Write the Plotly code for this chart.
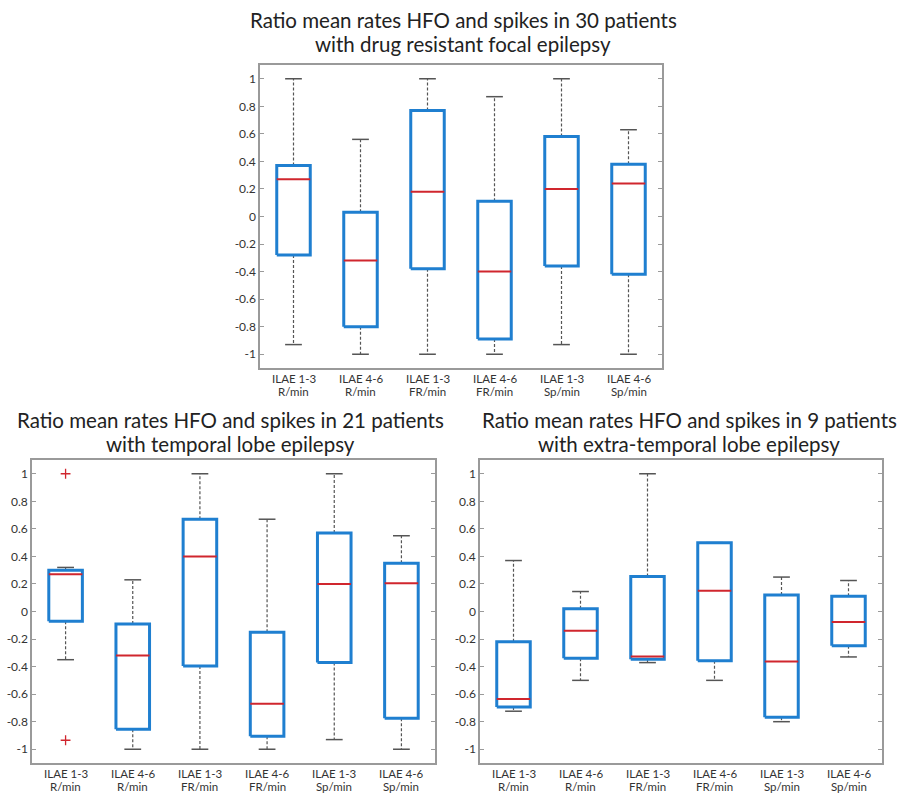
import plotly.graph_objects as go

cat_line1 = ["ILAE 1-3", "ILAE 4-6", "ILAE 1-3", "ILAE 4-6", "ILAE 1-3", "ILAE 4-6"]
cat_line2 = ["R/min", "R/min", "FR/min", "FR/min", "Sp/min", "Sp/min"]
y_ticks = [1, 0.8, 0.6, 0.4, 0.2, 0, -0.2, -0.4, -0.6, -0.8, -1]
y_tick_text = ["1", "0.8", "0.6", "0.4", "0.2", "0", "-0.2", "-0.4", "-0.6", "-0.8", "-1"]

titles = [
    ["Ratio mean rates HFO and spikes in 30 patients", "with drug resistant focal epilepsy"],
    ["Ratio mean rates HFO and spikes in 21 patients", "with temporal lobe epilepsy"],
    ["Ratio mean rates HFO and spikes in 9 patients", "with extra-temporal lobe epilepsy"],
]

# Panel 1: 30 patients
all_upper = [1.00, 0.56, 1.00, 0.87, 1.00, 0.63]
all_q3 = [0.37, 0.03, 0.77, 0.11, 0.58, 0.38]
all_median = [0.27, -0.32, 0.18, -0.40, 0.20, 0.24]
all_q1 = [-0.28, -0.80, -0.38, -0.89, -0.36, -0.42]
all_lower = [-0.93, -1.00, -1.00, -1.00, -0.93, -1.00]
all_outliers = [[], [], [], [], [], []]

# Panel 2: 21 patients temporal lobe
tle_upper = [0.32, 0.23, 1.00, 0.67, 1.00, 0.55]
tle_q3 = [0.30, -0.09, 0.67, -0.15, 0.57, 0.35]
tle_median = [0.27, -0.32, 0.40, -0.67, 0.20, 0.205]
tle_q1 = [-0.07, -0.855, -0.395, -0.905, -0.37, -0.775]
tle_lower = [-0.35, -1.00, -1.00, -1.00, -0.93, -1.00]
tle_outliers = [[1.0, -0.935], [], [], [], [], []]

# Panel 3: 9 patients extra-temporal
etle_upper = [0.37, 0.145, 1.00, 0.50, 0.25, 0.225]
etle_q3 = [-0.22, 0.02, 0.255, 0.50, 0.12, 0.11]
etle_median = [-0.635, -0.14, -0.327, 0.15, -0.363, -0.076]
etle_q1 = [-0.693, -0.34, -0.347, -0.357, -0.767, -0.248]
etle_lower = [-0.724, -0.50, -0.371, -0.50, -0.80, -0.33]
etle_outliers = [[], [], [], [], [], []]

panels = [
    (all_upper, all_q3, all_median, all_q1, all_lower, all_outliers),
    (tle_upper, tle_q3, tle_median, tle_q1, tle_lower, tle_outliers),
    (etle_upper, etle_q3, etle_median, etle_q1, etle_lower, etle_outliers),
]

W, H = 911, 794


def px_x(x):
    return x / W


def px_y(y):
    return 1 - y / H


# pixel frames (left, top, right, bottom)
frames = [(260, 65, 662, 368), (32, 460, 435, 763), (480, 460, 882, 763)]
# title centre x and cap-top y of first line
title_pos = [(463, 12), (230, 412), (689, 412)]
TITLE_LINE = 24

FONT = "Lato, 'Open Sans', sans-serif"
BLUE = "#1f7fd0"
RED = "#d0262e"
GREY = "#555555"
BOX_HALF = 0.25
CAP_HALF = 0.125

fig = go.Figure()
layout = dict(width=W, height=H, margin=dict(l=0, r=0, t=0, b=0),
              paper_bgcolor="white", plot_bgcolor="white", showlegend=False,
              font=dict(family=FONT, color="#333333"))
annotations = []

for p, (up, q3, med, q1, lo, outl) in enumerate(panels):
    sfx = "" if p == 0 else str(p + 1)
    xa, ya = "x" + sfx, "y" + sfx
    l, t, r, b = frames[p]
    layout["xaxis" + sfx] = dict(
        domain=[px_x(l), px_x(r)], anchor=ya, range=[0.5, 6.5],
        tickvals=list(range(1, 7)), showticklabels=False,
        showline=True, mirror=True, linecolor="#9a9a9a", linewidth=1.5,
        ticks="", showgrid=False, zeroline=False)
    layout["yaxis" + sfx] = dict(
        domain=[px_y(b), px_y(t)], anchor=xa, range=[-1.1, 1.1],
        tickvals=y_ticks, ticktext=y_tick_text,
        showline=True, mirror="ticks", linecolor="#9a9a9a", linewidth=1.5,
        ticks="inside", ticklen=4, tickcolor="#9a9a9a",
        showgrid=False, zeroline=False,
        tickfont=dict(size=12, family=FONT, color="#333333"))

    xs = list(range(1, 7))
    wx, wy, cx, cy, bx, by, mx, my, ox, oy = ([] for _ in range(10))
    for i, x in enumerate(xs):
        wx += [x, x, None, x, x, None]
        wy += [q3[i], up[i], None, q1[i], lo[i], None]
        cx += [x - CAP_HALF, x + CAP_HALF, None, x - CAP_HALF, x + CAP_HALF, None]
        cy += [up[i], up[i], None, lo[i], lo[i], None]
        bx += [x - BOX_HALF, x + BOX_HALF, x + BOX_HALF, x - BOX_HALF, x - BOX_HALF, None]
        by += [q1[i], q1[i], q3[i], q3[i], q1[i], None]
        mx += [x - BOX_HALF, x + BOX_HALF, None]
        my += [med[i], med[i], None]
        for v in outl[i]:
            ox.append(x)
            oy.append(v)
        # two-line category labels below the axis (tight line spacing)
        for k, txt in enumerate((cat_line1[i], cat_line2[i])):
            annotations.append(dict(text=txt, x=x, xref=xa,
                                    y=px_y(b + 10 + 13.5 * k), yref="paper",
                                    xanchor="center", yanchor="middle",
                                    showarrow=False, borderpad=0,
                                    font=dict(size=11.5, family=FONT, color="#333333")))

    fig.add_trace(go.Scatter(x=wx, y=wy, mode="lines", xaxis=xa, yaxis=ya,
                             line=dict(color=GREY, width=1.2, dash="3px,2px"),
                             hoverinfo="skip"))
    fig.add_trace(go.Scatter(x=cx, y=cy, mode="lines", xaxis=xa, yaxis=ya,
                             line=dict(color=GREY, width=1.5), hoverinfo="skip"))
    fig.add_trace(go.Scatter(x=bx, y=by, mode="lines", xaxis=xa, yaxis=ya,
                             fill="toself", fillcolor="white",
                             line=dict(color=BLUE, width=3), hoverinfo="skip"))
    fig.add_trace(go.Scatter(x=mx, y=my, mode="lines", xaxis=xa, yaxis=ya,
                             line=dict(color=RED, width=2), hoverinfo="skip"))
    if ox:
        fig.add_trace(go.Scatter(x=ox, y=oy, mode="markers", xaxis=xa, yaxis=ya,
                                 marker=dict(symbol="cross-thin", size=7,
                                             line=dict(color=RED, width=1.3)),
                                 hoverinfo="skip"))

    tx, ty = title_pos[p]
    for k, line in enumerate(titles[p]):
        annotations.append(dict(text=line, x=px_x(tx), y=px_y(ty - 5 + k * TITLE_LINE),
                                xref="paper", yref="paper", xanchor="center",
                                yanchor="top", showarrow=False, borderpad=0,
                                font=dict(size=20.5, family=FONT, color="#222222")))

layout["annotations"] = annotations
fig.update_layout(**layout)
fig.write_html("out.html", config={"displayModeBar": False},
               post_script="document.body.style.margin='0';document.body.style.overflow='hidden';")
